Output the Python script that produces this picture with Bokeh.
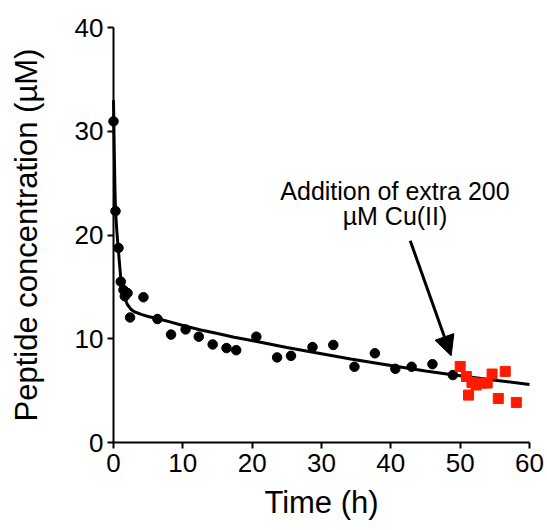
from bokeh.plotting import figure
from bokeh.models import Range1d, Arrow, NormalHead, Label, FixedTicker
from bokeh.embed import file_html
from bokeh.resources import INLINE

# Measured peptide concentration (black) before Cu(II) addition
black_t = [0.0, 0.29, 0.72, 1.05, 1.44, 1.63, 2.02, 2.39, 4.32, 6.34, 8.3, 10.4,
           12.3, 14.3, 16.3, 17.7, 20.6, 23.6, 25.6, 28.7, 31.7, 34.75, 37.7,
           40.65, 43.0, 46.0, 48.95]
black_c = [30.95, 22.3, 18.75, 15.5, 14.7, 14.1, 14.4, 12.05, 14.0, 11.9, 10.4, 10.9,
           10.2, 9.45, 9.1, 8.9, 10.2, 8.2, 8.35, 9.2, 9.4, 7.3, 8.6,
           7.1, 7.3, 7.55, 6.5]

# After addition of extra Cu(II) (red squares)
red_t = [50.0, 50.9, 51.2, 51.7, 52.3, 53.1, 53.9, 54.6, 55.5, 56.5, 58.1]
red_c = [7.33, 6.36, 4.57, 5.79, 5.54, 5.73, 5.73, 6.6, 4.24, 6.85, 3.86]

# Fitted curve
fit_t = [0.0, 0.1, 0.2, 0.29, 0.5, 0.72, 1.05, 1.5, 2.0, 2.5, 3.0, 4.0, 5.0, 6.3,
         8.0, 10.4, 12.6, 15.0, 17.4, 20.5, 25.0, 30.0, 34.2, 40.0, 45.0, 48.6,
         55.0, 60.0]
fit_c = [33.0, 28.5, 24.7, 22.3, 20.2, 18.4, 15.8, 14.1, 13.3, 12.85, 12.6, 12.35,
         12.15, 11.95, 11.65, 11.2, 10.85, 10.5, 10.15, 9.75, 9.15, 8.55, 8.05,
         7.42, 6.9, 6.55, 6.0, 5.6]

x_ticks = [0, 10, 20, 30, 40, 50, 60]
y_ticks = [0, 10, 20, 30, 40]

annot_line1 = "Addition of extra 200"
annot_line2 = "µM Cu(II)"
annot_x = 40.6
annot_y1 = 24.27
annot_y2 = 21.86
arrow_start = (42.8, 19.45)
arrow_end = (48.7, 8.36)

FONT = "Liberation Sans"

p = figure(width=547, height=530, output_backend="svg", toolbar_location=None,
           x_range=Range1d(0, 60), y_range=Range1d(0, 40),
           min_border_left=113, min_border_right=18, min_border_top=27,
           min_border_bottom=88)
p.grid.visible = False
p.outline_line_color = None
p.background_fill_color = "white"
p.border_fill_color = "white"

p.xaxis.ticker = FixedTicker(ticks=x_ticks)
p.yaxis.ticker = FixedTicker(ticks=y_ticks)
p.xaxis.axis_label = "Time (h)"
p.yaxis.axis_label = "Peptide concentration (µM)"

for ax in (p.xaxis[0], p.yaxis[0]):
    ax.axis_line_width = 2
    ax.axis_line_color = "black"
    ax.major_tick_line_width = 2
    ax.major_tick_line_color = "black"
    ax.major_tick_out = 6
    ax.major_tick_in = 0
    ax.minor_tick_out = 0
    ax.minor_tick_in = 0
    ax.major_label_text_font = FONT
    ax.major_label_text_font_size = "26px"
    ax.major_label_text_color = "black"
    ax.axis_label_text_font = FONT
    ax.axis_label_text_font_size = "31px"
    ax.axis_label_text_font_style = "normal"
    ax.axis_label_text_color = "black"

p.xaxis.major_label_standoff = 5
p.xaxis.axis_label_standoff = 10
p.yaxis.major_label_standoff = 4
p.yaxis.axis_label_standoff = 28
p.yaxis.major_label_orientation = "horizontal"

p.line(fit_t, fit_c, line_width=3, line_color="black", level="overlay")
p.scatter(black_t, black_c, marker="circle", size=9.5, fill_color="black",
          line_color="black", level="overlay")
p.scatter(red_t, red_c, marker="square", size=10, fill_color="#ff1a00",
          line_color="#ff1a00", level="overlay")

p.add_layout(Arrow(end=NormalHead(size=20, fill_color="black", line_color="black",
                                  line_width=1),
                   x_start=arrow_start[0], y_start=arrow_start[1],
                   x_end=arrow_end[0], y_end=arrow_end[1],
                   line_width=3, line_color="black"))

p.add_layout(Label(x=annot_x, y=annot_y1, text=annot_line1, text_align="center",
                   text_baseline="alphabetic", text_font=FONT,
                   text_font_size="25px", text_color="black"))
p.add_layout(Label(x=annot_x, y=annot_y2, text=annot_line2, text_align="center",
                   text_baseline="alphabetic", text_font=FONT,
                   text_font_size="25px", text_color="black"))

open("out.html", "w").write(file_html(p, INLINE))
